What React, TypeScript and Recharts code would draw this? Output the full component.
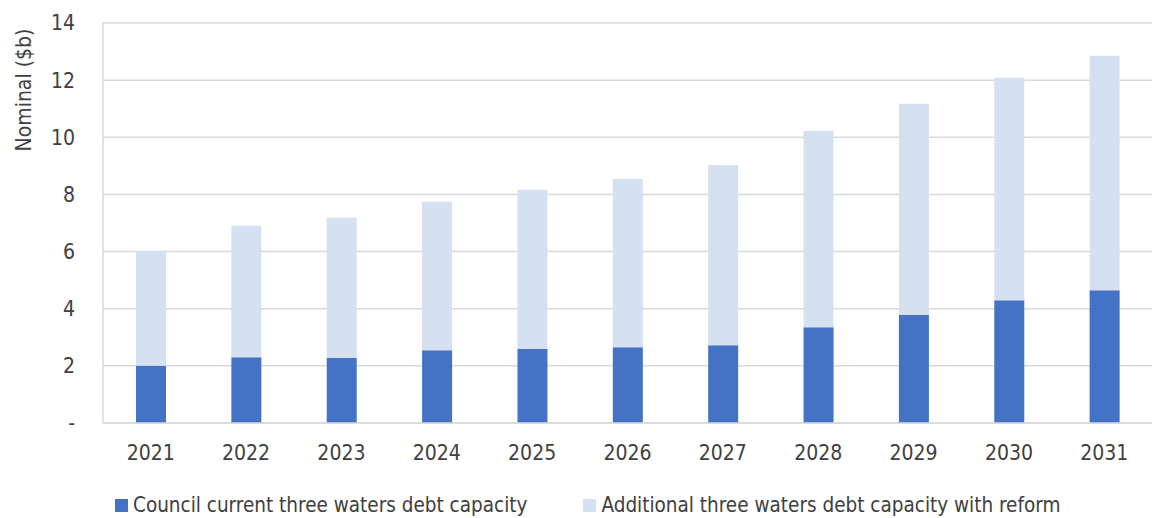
import React from 'react';
import { BarChart, Bar, XAxis, YAxis, CartesianGrid, Legend } from 'recharts';

const years = ['2021', '2022', '2023', '2024', '2025', '2026', '2027', '2028', '2029', '2030', '2031'];
const councilCapacity = [2.0, 2.3, 2.28, 2.55, 2.6, 2.65, 2.72, 3.35, 3.78, 4.3, 4.65];
const additionalCapacity = [4.02, 4.6, 4.9, 5.19, 5.56, 5.89, 6.31, 6.87, 7.39, 7.78, 8.2];
const yTicks = [0, 2, 4, 6, 8, 10, 12, 14];

const seriesNames = {
  council: 'Council current three waters debt capacity',
  additional: 'Additional three waters debt capacity with reform',
};
const legendOrder = ['council', 'additional'];

const data = years.map((year, i) => ({
  year,
  council: councilCapacity[i],
  additional: additionalCapacity[i],
}));

const FONT = '"DejaVu Sans Condensed", "Open Sans", sans-serif';
const TEXT = '#404040';

const LegendContent = ({ payload }: any) => {
  const items = [...(payload || [])].sort(
    (a: any, b: any) => legendOrder.indexOf(a.dataKey) - legendOrder.indexOf(b.dataKey)
  );
  return (
    <div
      style={{
        display: 'flex',
        fontFamily: FONT,
        fontSize: 20.5,
        color: TEXT,
        paddingLeft: 115,
        paddingTop: 8,
        whiteSpace: 'nowrap',
        lineHeight: '24px',
      }}
    >
      {items.map((item: any, i: number) => (
        <div key={i} style={{ display: 'flex', alignItems: 'center', marginRight: 56 }}>
          <span style={{ width: 13, height: 13, background: item.color, display: 'inline-block', marginRight: 5 }} />
          <span>{item.value}</span>
        </div>
      ))}
    </div>
  );
};

const YLabel = () => (
  <text
    x={24}
    y={90}
    transform="rotate(-90, 24, 90)"
    textAnchor="middle"
    dominantBaseline="central"
    fontFamily={FONT}
    fontSize={21}
    fill={TEXT}
  >
    Nominal ($b)
  </text>
);

export default function App() {
  return (
    <div style={{ position: 'absolute', left: 0, top: 0, background: '#fff' }}>
      <BarChart
        width={1152}
        height={518}
        data={data}
        margin={{ top: 23, right: 0, left: 0, bottom: 0 }}
        barSize={30}
      >
        <CartesianGrid vertical={false} stroke="#d9d9d9" strokeWidth={1.5} />
        <XAxis
          dataKey="year"
          axisLine={{ stroke: '#d9d9d9', strokeWidth: 1.5 }}
          tickLine={false}
          tickSize={0}
          tickMargin={22}
          height={62}
          tick={{ fontFamily: FONT, fontSize: 21, fill: TEXT }}
        />
        <YAxis
          domain={[0, 14]}
          ticks={yTicks}
          width={103}
          axisLine={{ stroke: '#d9d9d9', strokeWidth: 1.5 }}
          tickLine={false}
          tickSize={0}
          tickMargin={28}
          tickFormatter={(v: number) => (v === 0 ? '-' : String(v))}
          tick={{ fontFamily: FONT, fontSize: 21, fill: TEXT }}
          label={{ content: <YLabel /> }}
        />
        <Legend verticalAlign="bottom" height={33} content={<LegendContent />} />
        <Bar dataKey="council" name={seriesNames.council} stackId="a" fill="#4472C4" isAnimationActive={false} />
        <Bar dataKey="additional" name={seriesNames.additional} stackId="a" fill="#D5E0F1" isAnimationActive={false} />
      </BarChart>
    </div>
  );
}
